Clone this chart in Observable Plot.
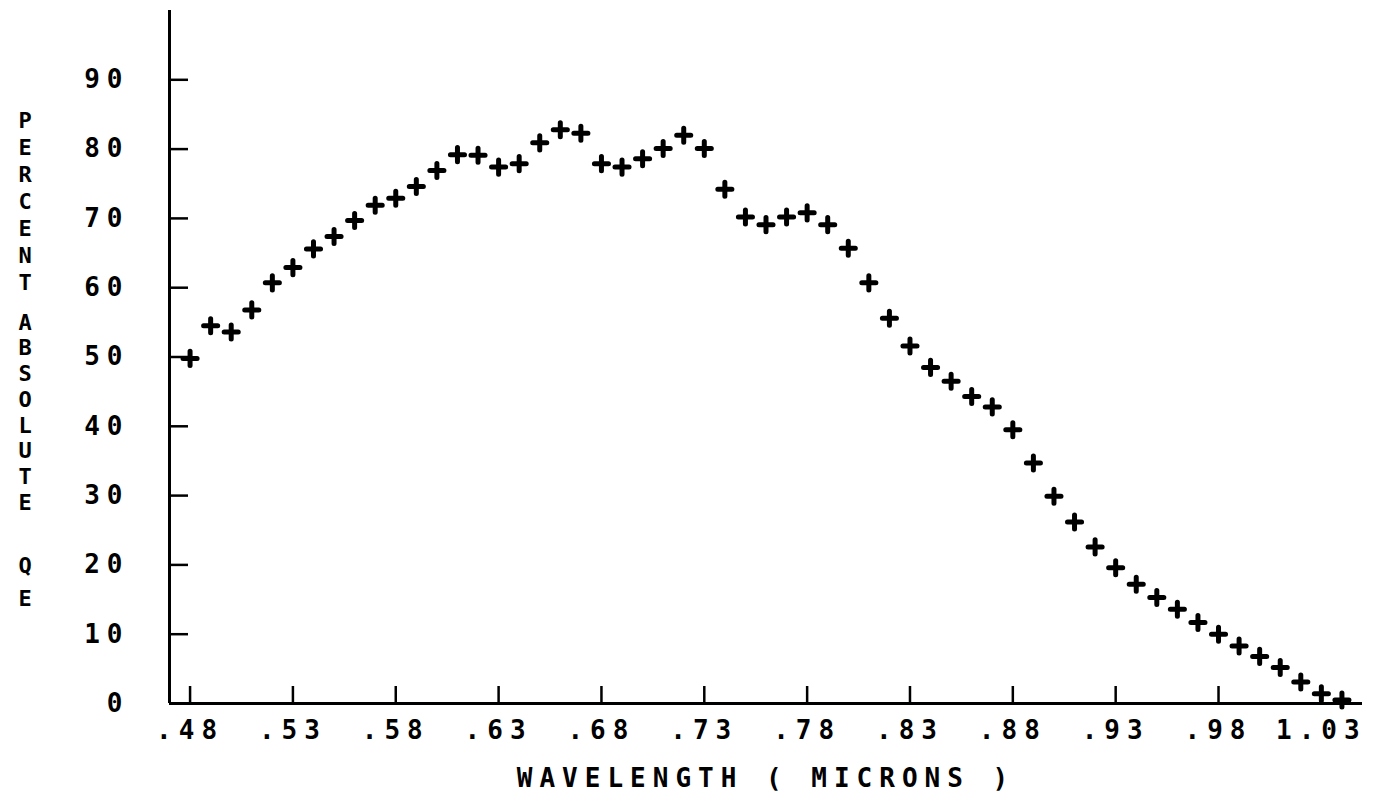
<!DOCTYPE html>
<html>
<head>
<meta charset="utf-8">
<script src="https://cdn.jsdelivr.net/npm/d3@7"></script>
<script src="https://cdn.jsdelivr.net/npm/@observablehq/plot@0.6"></script>
<style>
  html, body { margin: 0; padding: 0; background: #fff; }
</style>
</head>
<body>
<div id="chart"></div>
<script>
// Absolute quantum efficiency (percent) against wavelength (microns)
const wavelength = [
  0.48, 0.49, 0.50, 0.51, 0.52, 0.53, 0.54, 0.55, 0.56, 0.57,
  0.58, 0.59, 0.60, 0.61, 0.62, 0.63, 0.64, 0.65, 0.66, 0.67,
  0.68, 0.69, 0.70, 0.71, 0.72, 0.73, 0.74, 0.75, 0.76, 0.77,
  0.78, 0.79, 0.80, 0.81, 0.82, 0.83, 0.84, 0.85, 0.86, 0.87,
  0.88, 0.89, 0.90, 0.91, 0.92, 0.93, 0.94, 0.95, 0.96, 0.97,
  0.98, 0.99, 1.00, 1.01, 1.02, 1.03, 1.04
];
const percentQE = [
  49.8, 54.5, 53.6, 56.8, 60.7, 62.9, 65.6, 67.4, 69.7, 71.9,
  72.9, 74.6, 76.9, 79.2, 79.1, 77.4, 77.9, 80.9, 82.8, 82.3,
  77.9, 77.4, 78.6, 80.1, 82.0, 80.1, 74.2, 70.2, 69.1, 70.2,
  70.8, 69.1, 65.7, 60.7, 55.6, 51.6, 48.5, 46.5, 44.3, 42.8,
  39.5, 34.7, 29.9, 26.2, 22.6, 19.6, 17.2, 15.3, 13.6, 11.7,
  10.0, 8.3, 6.8, 5.2, 3.1, 1.4, 0.5
];

const xDomain = [0.47, 1.05];
const yDomain = [0, 100];
const xTicks = [0.48, 0.53, 0.58, 0.63, 0.68, 0.73, 0.78, 0.83, 0.88, 0.93, 0.98, 1.03];
const xTickLabels = [".48", ".53", ".58", ".63", ".68", ".73", ".78", ".83", ".88", ".93", ".98", "1.03"];
const yTicks = [0, 10, 20, 30, 40, 50, 60, 70, 80, 90];
const yTickLabels = ["0", "10", "20", "30", "40", "50", "60", "70", "80", "90"];
const xTitle = "WAVELENGTH ( MICRONS )";
const yTitleWords = ["PERCENT", "ABSOLUTE", "Q", "E"];

const W = 1378, H = 799;
const margin = {top: 10, right: 16, bottom: 96, left: 169};
const frameW = W - margin.left - margin.right;
const frameH = H - margin.top - margin.bottom;
const frameMidY = margin.top + frameH / 2;

const points = wavelength.map((w, i) => ({w, qe: percentQE[i]}));

// vertical placement and line spacing of each stacked word of the y title
const yTitleLayout = [
  {center: 200, lineHeight: 1.23},
  {center: 411, lineHeight: 1.17},
  {center: 565, lineHeight: 1.0},
  {center: 598, lineHeight: 1.0}
];

const yTitleMarks = yTitleWords.map((word, i) =>
  Plot.text([word], {
    text: d => d.split("").join("\n"),
    frameAnchor: "left",
    textAnchor: "middle",
    lineAnchor: "middle",
    fontSize: 22,
    lineHeight: yTitleLayout[i].lineHeight,
    dx: -141,
    dy: yTitleLayout[i].center - frameMidY
  })
);

const chart = Plot.plot({
  width: W,
  height: H,
  marginTop: margin.top,
  marginRight: margin.right,
  marginBottom: margin.bottom,
  marginLeft: margin.left,
  style: {
    fontFamily: "'DejaVu Sans Mono', monospace",
    fontSize: "26px",
    fontWeight: "bold",
    letterSpacing: "7px",
    color: "black",
    background: "white"
  },
  x: {domain: xDomain},
  y: {domain: yDomain},
  marks: [
    Plot.axisX({
      ticks: xTicks,
      tickFormat: d => xTickLabels[xTicks.indexOf(d)],
      tickSize: 0,
      tickPadding: 17,
      label: null
    }),
    Plot.axisY({
      ticks: yTicks,
      tickFormat: d => yTickLabels[yTicks.indexOf(d)],
      tickSize: 0,
      tickPadding: 40,
      label: null
    }),
    // inward tick marks
    Plot.tickX(xTicks, {x: d => d, insetTop: frameH - 17, stroke: "black", strokeWidth: 2.5}),
    Plot.tickY(yTicks.filter(d => d > 0), {y: d => d, insetRight: frameW - 19, stroke: "black", strokeWidth: 2.5}),
    // axis lines
    Plot.ruleX([xDomain[0]], {stroke: "black", strokeWidth: 3}),
    Plot.ruleY([yDomain[0]], {stroke: "black", strokeWidth: 3}),
    // measurements
    Plot.dot(points, {
      x: "w",
      y: "qe",
      symbol: "plus",
      r: 4.6,
      stroke: "black",
      strokeWidth: 5,
      strokeLinecap: "round"
    }),
    // titles
    Plot.text([xTitle], {
      frameAnchor: "bottom",
      textAnchor: "middle",
      lineAnchor: "middle",
      dy: 75
    }),
    ...yTitleMarks
  ]
});

document.getElementById("chart").appendChild(chart);
</script>
</body>
</html>
